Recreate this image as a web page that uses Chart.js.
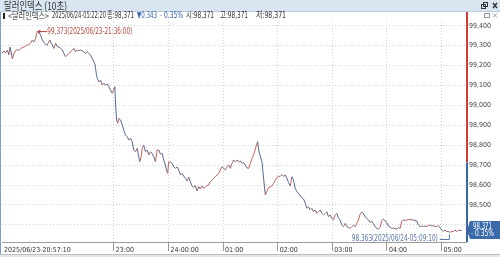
<!DOCTYPE html>
<html><head><meta charset="utf-8">
<script src="https://cdn.jsdelivr.net/npm/chart.js@4/dist/chart.umd.min.js"></script>
<style>html,body{margin:0;padding:0;background:#fff;overflow:hidden}#wrap{position:absolute;left:0;top:0;width:500px;height:257px}</style>
</head><body><div id="wrap"><canvas id="c"></canvas></div>
<script>
// minutes after 2025/06/23 20:00
const minutes = [57.17,59.3,61.2,63.1,64.8,65.9,67.2,68.6,70.0,71.1,
72.7,74.0,75.8,77.7,79.5,81.3,83.1,85.0,86.8,88.6,
90.5,92.3,94.1,96.0,99.6,101.5,103.2,105.1,106.9,108.4,
109.8,111.1,112.4,114.2,116.1,117.9,119.7,121.5,123.4,125.2,
127.0,128.9,130.6,132.5,134.4,136.1,138.0,139.8,141.6,143.5,
145.3,147.1,149.0,150.8,152.6,154.4,156.3,158.1,159.2,159.9,
161.0,161.8,163.5,165.4,167.3,169.0,170.9,172.8,174.5,176.4,
178.2,180.0,181.1,181.9,183.0,184.4,185.5,187.4,189.2,191.0,
192.8,194.7,196.5,198.3,200.2,201.9,203.8,205.7,207.4,208.5,
210.1,211.2,212.9,214.8,216.6,218.4,220.3,222.1,223.9,225.7,
227.6,229.4,231.2,233.1,234.8,236.7,237.8,239.2,240.3,242.2,
244.1,245.8,247.7,249.5,251.3,253.2,255.0,256.8,258.6,260.5,
262.3,264.1,266.0,267.8,269.6,271.5,273.2,275.1,277.0,278.7,
280.6,282.4,284.2,286.1,287.9,289.7,291.6,293.4,295.2,297.0,
298.9,300.7,302.5,304.4,306.1,308.0,309.9,311.6,313.5,315.4,
317.1,319.0,320.8,322.6,324.5,326.3,328.1,329.9,331.8,333.6,
335.4,337.3,338.0,339.1,340.9,342.8,344.5,346.4,348.3,350.0,
351.9,353.7,355.5,357.4,359.2,361.0,362.9,364.7,366.5,368.3,
370.2,371.9,373.8,375.7,377.4,379.3,381.1,382.9,384.8,386.6,
388.4,390.3,392.1,393.9,395.7,397.6,399.3,401.2,403.1,404.9,
406.7,408.6,410.4,412.2,414.1,415.8,417.7,419.6,421.3,423.2,
425.0,426.8,428.7,430.5,432.3,434.2,436.0,437.8,439.6,441.5,
443.3,445.1,447.0,448.7,450.6,452.5,454.2,456.1,457.9,459.7,
461.6,463.4,465.2,467.1,468.9,470.7,472.5,474.4,476.2,478.0,
479.9,481.6,483.5,485.4,487.1,489.0,490.8,492.6,494.5,496.3,
498.1,500.0,501.8,503.6,505.4,507.3,509.1,510.9,512.8,514.6,
516.4,518.3,520.0,521.9,523.8,525.5,527.4,529.2,531.0,532.9,
534.7,536.5,538.4,540.2,542.0,543.8,545.7,547.5,549.17,551.2,
553.0,554.8,556.7,558.4,560.3,562.33];

const prices = [99.261,99.273,99.263,99.278,99.253,99.293,99.268,99.233,99.258,99.268,
99.278,99.280,99.275,99.286,99.290,99.293,99.298,99.303,99.306,99.313,
99.328,99.318,99.337,99.373,99.353,99.328,99.315,99.308,99.303,99.318,
99.328,99.313,99.303,99.286,99.312,99.295,99.293,99.286,99.278,99.261,
99.244,99.253,99.261,99.269,99.278,99.286,99.269,99.278,99.275,99.278,
99.273,99.269,99.261,99.269,99.261,99.253,99.236,99.218,99.208,99.188,
99.152,99.136,99.117,99.127,99.102,99.112,99.102,99.107,99.094,99.077,
99.061,99.077,99.094,99.012,98.927,98.910,98.935,98.927,98.902,98.876,
98.851,98.843,98.826,98.835,98.818,98.776,98.767,98.784,98.742,98.717,
98.742,98.784,98.801,98.767,98.776,98.751,98.767,98.759,98.742,98.717,
98.776,98.776,98.756,98.759,98.726,98.701,98.676,98.659,98.716,98.716,
98.709,98.692,98.684,98.691,98.676,98.651,98.659,98.645,98.634,98.620,
98.640,98.615,98.595,98.588,98.598,98.570,98.593,98.580,98.595,98.585,
98.590,98.598,98.600,98.617,98.625,98.634,98.642,98.651,98.659,98.676,
98.692,98.684,98.676,98.692,98.701,98.684,98.709,98.726,98.717,98.726,
98.717,98.721,98.709,98.713,98.701,98.686,98.684,98.706,98.734,98.751,
98.781,98.810,98.818,98.776,98.746,98.716,98.636,98.550,98.570,98.588,
98.590,98.595,98.609,98.625,98.638,98.643,98.645,98.653,98.643,98.651,
98.634,98.613,98.595,98.642,98.625,98.584,98.567,98.559,98.545,98.538,
98.530,98.510,98.483,98.491,98.475,98.483,98.466,98.475,98.458,98.466,
98.475,98.458,98.450,98.458,98.466,98.441,98.450,98.433,98.425,98.450,
98.458,98.433,98.425,98.399,98.391,98.408,98.391,98.387,98.383,98.392,
98.399,98.391,98.408,98.425,98.455,98.465,98.457,98.440,98.433,98.425,
98.412,98.420,98.405,98.392,98.382,98.379,98.387,98.422,98.430,98.420,
98.412,98.394,98.389,98.382,98.384,98.382,98.379,98.387,98.382,98.417,
98.425,98.422,98.425,98.427,98.427,98.425,98.425,98.422,98.420,98.400,
98.392,98.394,98.392,98.394,98.392,98.397,98.399,98.394,98.397,98.392,
98.392,98.397,98.387,98.374,98.367,98.374,98.367,98.367,98.363,98.367,
98.367,98.374,98.367,98.372,98.373,98.371];

const prevClose = 98.714;
const yTicks = [98.4,98.5,98.6,98.7,98.8,98.9,99.0,99.1,99.2,99.3,99.4];
const xTickMinutes = [57.17,180,240,300,360,420,480,540];
const xTickLabels = ['2025/06/23-20:57:10','23:00','24-00:00','01:00','02:00','03:00','04:00','05:00'];
const yMin = 98.3142, yMax = 99.4186, xMax = 566.9;

const NARROW = "'Liberation Sans Narrow','DejaVu Sans Condensed','Noto Sans CJK KR',sans-serif";
const KR = "'Noto Sans CJK KR',sans-serif";

function fmt(v){ return v.toFixed(3).replace('.', ','); }
function timeStr(m){
  const total = Math.round(m*60);
  let day = 23, s = total + 20*3600;
  if (s >= 24*3600){ s -= 24*3600; day = 24; }
  const h = Math.floor(s/3600), mi = Math.floor((s%3600)/60), se = s%60;
  const p = n => String(n).padStart(2,'0');
  return '2025/06/' + day + '-' + p(h) + ':' + p(mi) + ':' + p(se);
}
function fitText(ctx, s, x, yMid, w, font, color){
  ctx.save();
  ctx.font = font; ctx.fillStyle = color; ctx.textBaseline = 'middle'; ctx.textAlign = 'left';
  const m = ctx.measureText(s).width;
  const k = Math.min(1, w / m);
  ctx.translate(x, yMid); ctx.scale(k, 1); ctx.fillText(s, 0, 0);
  ctx.restore();
}

const overlay = {
  id: 'overlay',
  afterDraw(chart){
    const {ctx, chartArea: ca, scales: {x, y}} = chart;
    ctx.save();
    // title bar
    ctx.fillStyle = '#d9e6f2'; ctx.fillRect(0, 0, 500, 11);
    ctx.fillStyle = '#b8cadc'; ctx.fillRect(0, 11, 500, 1);
    fitText(ctx, '달러인덱스 (10초)', 4, 5.5, 63, "11px " + KR, '#333');
    // window icons
    ctx.strokeStyle = '#333'; ctx.lineWidth = 1;
    ctx.strokeRect(481.5, 4.5, 4, 4); ctx.strokeRect(483.5, 2.5, 4, 4);
    ctx.beginPath(); ctx.moveTo(493, 3); ctx.lineTo(497, 8); ctx.moveTo(497, 3); ctx.lineTo(493, 8);
    ctx.lineWidth = 1.4; ctx.stroke();
    ctx.strokeStyle = '#999'; ctx.lineWidth = 1;
    ctx.strokeRect(484.5, 13.5, 5, 4);
    ctx.beginPath(); ctx.moveTo(493, 13.5); ctx.lineTo(497, 17.5); ctx.moveTo(497, 13.5); ctx.lineTo(493, 17.5); ctx.stroke();
    // left window border
    ctx.fillStyle = '#7e9ecf'; ctx.fillRect(0, 12, 1, 245);
    // info line
    const last = prices[prices.length - 1];
    const chg = last - prevClose;
    const pct = chg / prevClose * 100;
    const F = "9px " + NARROW;
    ctx.fillStyle = '#222'; ctx.fillRect(3, 13, 2, 6);
    fitText(ctx, '<달러인덱스>', 8, 16, 41, "9px " + KR, '#333');
    fitText(ctx, timeStr(minutes[minutes.length - 1]), 52, 16, 54, F, '#333');
    fitText(ctx, '종:' + fmt(last), 107, 16, 27, F, '#333');
    fitText(ctx, (chg < 0 ? '▼' : '▲') + Math.abs(chg).toFixed(3), 137, 16, 20, F, '#3a62b0');
    fitText(ctx, (pct < 0 ? '- ' : '+ ') + Math.abs(pct).toFixed(2) + '%', 160, 16, 23, F, '#3a62b0');
    fitText(ctx, '시:' + fmt(last), 186, 16, 28, F, '#333');
    fitText(ctx, '고:' + fmt(last), 220, 16, 28, F, '#333');
    fitText(ctx, '저:' + fmt(last), 256, 16, 30, F, '#333');
    // right axis line: red above previous close, blue below
    const yPrev = y.getPixelForValue(prevClose);
    ctx.fillStyle = '#d23a33'; ctx.fillRect(ca.right, 12, 2, yPrev - 12);
    ctx.fillStyle = '#3a63aa'; ctx.fillRect(ca.right, yPrev, 2, ca.bottom - yPrev);
    // max annotation
    let iMax = 0, iMin = 0;
    prices.forEach((v, i) => { if (v > prices[iMax]) iMax = i; if (v < prices[iMin]) iMin = i; });
    const mx = x.getPixelForValue(minutes[iMax]), my = y.getPixelForValue(prices[iMax]);
    ctx.strokeStyle = '#b5473f'; ctx.fillStyle = '#b5473f'; ctx.lineWidth = 1;
    ctx.beginPath(); ctx.moveTo(mx + 1, my + 0.5); ctx.lineTo(mx + 10, my + 0.5); ctx.stroke();
    ctx.beginPath(); ctx.moveTo(mx, my + 0.5); ctx.lineTo(mx + 3, my - 1.5); ctx.lineTo(mx + 3, my + 2.5); ctx.closePath(); ctx.fill();
    fitText(ctx, prices[iMax].toFixed(3).replace('.', ',') + '(' + timeStr(minutes[iMax]) + ')', mx + 10, my + 1, 85, "9px " + NARROW, '#b5473f');
    // min annotation
    const nx = x.getPixelForValue(minutes[iMin]), ny = y.getPixelForValue(prices[iMin]);
    ctx.strokeStyle = '#5876a6';
    ctx.beginPath(); ctx.moveTo(nx - 10, 239.5); ctx.lineTo(nx - 0.5, 239.5); ctx.lineTo(nx - 0.5, ny + 2); ctx.stroke();
    fitText(ctx, prices[iMin].toFixed(3) + '(' + timeStr(minutes[iMin]) + ')', nx - 98, 239, 86, "9px " + NARROW, '#5876a6');
    // current value box
    const ly = y.getPixelForValue(last);
    ctx.fillStyle = '#3b6aaa';
    ctx.beginPath(); ctx.moveTo(ca.right + 1, ly); ctx.lineTo(ca.right + 4, 221); ctx.lineTo(500, 221); ctx.lineTo(500, 239); ctx.lineTo(ca.right + 4, 239); ctx.closePath(); ctx.fill();
    fitText(ctx, fmt(last), 473, 226.5, 19, "8px " + NARROW, '#fff');
    fitText(ctx, (pct < 0 ? '- ' : '+ ') + Math.abs(pct).toFixed(2) + '%', 471, 234, 23, "8px " + NARROW, '#fff');
    // bottom strip
    ctx.fillStyle = '#bcbcbc'; ctx.fillRect(0, 254, 500, 1);
    ctx.fillStyle = '#e6e6e6'; ctx.fillRect(0, 255, 500, 2);
    ctx.restore();
  }
};

const dataPts = minutes.map((m, i) => ({x: m, y: prices[i]}));

new Chart(document.getElementById('c'), {
  type: 'line',
  data: { datasets: [{
    data: dataPts, borderWidth: 1, pointRadius: 0, tension: 0, fill: false,
    borderColor: '#56688f',
    segment: { borderColor: c => c.p1.parsed.y >= c.p0.parsed.y ? '#c4625c' : '#56688f' }
  }]},
  options: {
    responsive: true, maintainAspectRatio: false, animation: false, devicePixelRatio: 1,
    layout: { padding: { left: 2, top: 22, right: 0, bottom: 0 } },
    plugins: { legend: { display: false }, tooltip: { enabled: false } },
    scales: {
      x: {
        type: 'linear', min: minutes[0], max: xMax,
        afterBuildTicks: s => { s.ticks = xTickMinutes.map(v => ({value: v})); },
        afterFit: s => { s.height = 15; },
        grid: {
          color: c => c.index === 0 ? 'rgba(0,0,0,0)' : '#d2d2d2',
          tickColor: c => c.index === 0 ? 'rgba(0,0,0,0)' : '#9a9a9a',
          tickLength: 9, tickBorderDash: [], lineWidth: 1
        },
        border: { display: true, color: '#9c9c9c', width: 1, dash: [1, 2] },
        ticks: {
          align: 'start', labelOffset: 2, padding: -5, autoSkip: false, maxRotation: 0,
          color: '#333', font: { family: NARROW, size: 7 },
          callback: (v, i) => xTickLabels[i]
        }
      },
      y: {
        position: 'right', min: yMin, max: yMax,
        afterBuildTicks: s => { s.ticks = yTicks.map(v => ({value: v})); },
        afterFit: s => { s.width = 34; },
        grid: { color: '#d2d2d2', tickColor: '#9a9a9a', tickLength: 2, tickBorderDash: [], lineWidth: 1 },
        border: { display: false, dash: [1, 2] },
        ticks: { padding: 1, color: '#444', font: { family: NARROW, size: 7 }, callback: v => fmt(v) }
      }
    }
  },
  plugins: [overlay]
});
</script></body></html>
